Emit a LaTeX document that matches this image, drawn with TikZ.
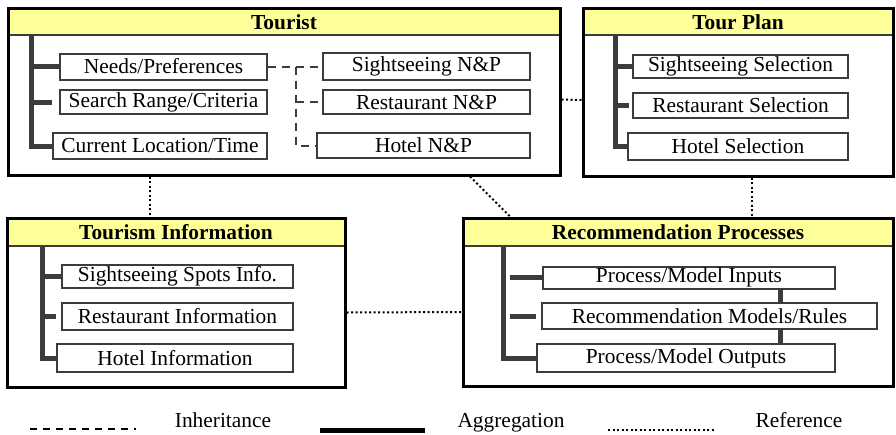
\documentclass[tikz,border=0pt]{standalone}
\usepackage{fontspec}
\setmainfont{Liberation Serif}
\definecolor{titleyellow}{RGB}{255,255,153}
\definecolor{linegray}{RGB}{60,60,60}

\begin{document}
\begin{tikzpicture}[x=1pt,y=-1pt,
    frame/.style={draw=black,line width=3pt,inner sep=0pt},
    titlebar/.style={draw=linegray,line width=1.5pt,fill=titleyellow,inner sep=0pt,minimum height=26pt,anchor=north,font=\fontsize{21.4}{25}\selectfont\bfseries},
    item/.style={draw=linegray,line width=2pt,fill=white,inner sep=0pt,minimum height=26pt,font=\fontsize{21.4}{25}\selectfont},
    aggr/.style={draw=linegray,line width=5pt},
    inh/.style={draw=linegray,line width=2pt,dash pattern=on 8pt off 6pt},
    ref/.style={draw=black,line width=2pt,dash pattern=on 2pt off 2.5pt},
    legend/.style={anchor=base,font=\fontsize{21.4}{25}\selectfont}]
    \useasboundingbox (0,0) rectangle (896,434);
    \node[titlebar,minimum width=552pt] (touristtitle) at (284,8) {Tourist};
    \node[titlebar,minimum width=310pt] (plantitle) at (738,8) {Tour Plan};
    \node[titlebar,minimum width=338pt,minimum height=27pt] (infotitle) at (176,218) {Tourism Information};
    \node[titlebar,minimum width=430pt,minimum height=27pt] (rectitle) at (678,218) {Recommendation Processes};
    \node[frame,minimum width=552pt,minimum height=167pt] (touristbox) at (284,91.5) {};
    \node[frame,minimum width=310pt,minimum height=168pt] (planbox) at (738,92) {};
    \node[frame,minimum width=338pt,minimum height=169pt] (infobox) at (176,302.5) {};
    \node[frame,minimum width=430pt,minimum height=168pt] (recbox) at (678,302) {};
    \node[item,minimum width=207pt] (needs) at (163.5,66.5) {Needs/Preferences};
    \node[item,minimum width=207pt,minimum height=24pt] (search) at (163.5,102) {Search Range/Criteria};
    \node[item,minimum width=214pt] (current) at (160,146) {Current Location/Time};
    \node[item,minimum width=207pt,minimum height=27pt] (snp) at (426.5,66.5) {Sightseeing N\&P};
    \node[item,minimum width=207pt,minimum height=24pt] (rnp) at (426.5,102) {Restaurant N\&P};
    \node[item,minimum width=213pt,minimum height=25pt] (hnp) at (423.5,145.5) {Hotel N\&P};
    \node[item,minimum width=215pt,minimum height=23pt] (ssel) at (740.5,66) {Sightseeing Selection};
    \node[item,minimum width=215pt,minimum height=25pt] (rsel) at (740.5,105.5) {Restaurant Selection};
    \node[item,minimum width=220pt,minimum height=27pt] (hsel) at (738,146.5) {Hotel Selection};
    \node[item,minimum width=231pt,minimum height=23pt] (ssi) at (177.5,276.5) {Sightseeing Spots Info.};
    \node[item,minimum width=231pt,minimum height=27pt] (ri) at (177.5,316.5) {Restaurant Information};
    \node[item,minimum width=236pt,minimum height=28pt] (hi) at (175,358) {Hotel Information};
    \node[item,minimum width=292pt,minimum height=22pt] (pin) at (689,277.5) {Process/Model Inputs};
    \node[item,minimum width=335pt] (rmr) at (709.5,316) {Recommendation Models/Rules};
    \node[item,minimum width=298pt,minimum height=28pt] (pout) at (686,358) {Process/Model Outputs};
    \coordinate (touristroot) at (31,34);
    \coordinate (planroot) at (615,34);
    \coordinate (inforoot) at (42,245);
    \coordinate (recroot) at (503,245);
    \coordinate (recstub) at (510,0);
    \coordinate (pipe) at (780,0);
    \coordinate (inhroot) at (296,0);
    \coordinate (refa) at (150,0);
    \coordinate (refd) at (752,0);
    \draw[aggr] (touristroot) |- (current.west);
    \draw[aggr] (touristroot |- needs) -- (needs.west);
    \draw[aggr] (touristroot |- search) -- ([xshift=-7pt]search.west);
    \draw[aggr] (planroot) |- (hsel.west);
    \draw[aggr] (planroot |- ssel) -- (ssel.west);
    \draw[aggr] (planroot |- rsel) -- ([xshift=-3pt]rsel.west);
    \draw[aggr] (inforoot) |- (hi.west);
    \draw[aggr] (inforoot |- ssi) -- (ssi.west);
    \draw[aggr] (inforoot |- ri) -- ([xshift=-5pt]ri.west);
    \draw[aggr] (recroot) |- (pout.west);
    \draw[aggr] (recstub |- pin) -- (pin.west);
    \draw[aggr] (recstub |- rmr) -- ([xshift=-5pt]rmr.west);
    \draw[aggr] (pin.south -| pipe) -- (rmr.north -| pipe);
    \draw[aggr] (rmr.south -| pipe) -- (pout.north -| pipe);
    \draw[inh] (needs.east) -- (snp.west);
    \draw[inh] (needs.east -| inhroot) |- (hnp.west);
    \draw[inh] (inhroot |- rnp) -- (rnp.west);
    \draw[ref] ([yshift=-8pt]touristbox.east) -- ([yshift=-8pt]planbox.west);
    \draw[ref] (touristbox.south -| refa) -- (infobox.north -| refa);
    \draw[ref] ([xshift=186pt]touristbox.south) -- ([xshift=-168pt]recbox.north);
    \draw[ref] (planbox.south -| refd) -- (recbox.north -| refd);
    \draw[ref] ([yshift=-10pt]infobox.east) -- ([yshift=-10pt]recbox.west);
    \coordinate (inhA) at (30,429);
    \coordinate (inhB) at (136,429);
    \coordinate (aggrA) at (320,430);
    \coordinate (aggrB) at (425,430);
    \coordinate (refA) at (608,430);
    \coordinate (refB) at (715,430);
    \draw[draw=black,line width=2.5pt,dash pattern=on 7pt off 6pt] (inhA) -- (inhB);
    \draw[draw=black,line width=5pt] (aggrA) -- (aggrB);
    \draw[ref] (refA) -- (refB);
    \node[legend] (inhtext) at (223,427) {Inheritance};
    \node[legend] (aggrtext) at (511,427) {Aggregation};
    \node[legend] (reftext) at (799,427) {Reference};
\end{tikzpicture}
\end{document}
